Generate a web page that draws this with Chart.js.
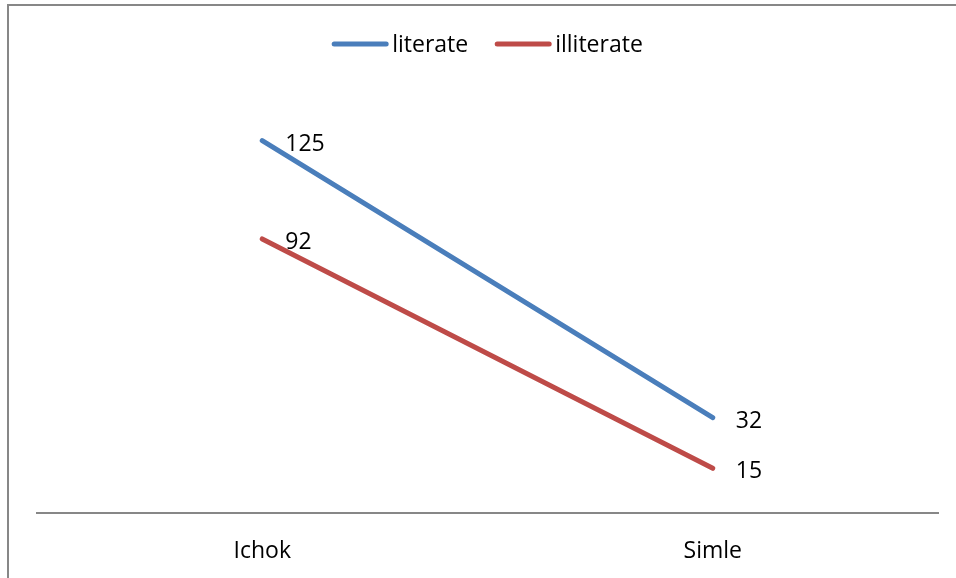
<!DOCTYPE html>
<html>
<head>
<meta charset="utf-8">
<title>literate / illiterate</title>
<script src="https://cdn.jsdelivr.net/npm/chart.js@4.4.1/dist/chart.umd.min.js"></script>
<style>
  html, body { margin: 0; padding: 0; background: #fff; overflow: hidden; }
  #frame {
    position: absolute; left: 7px; top: 4px; width: 1000px; height: 700px;
    border: 2px solid #878787; box-sizing: border-box;
  }
  #wrap { position: absolute; left: 0; top: 0; width: 956px; height: 578px; }
</style>
</head>
<body>
<div id="frame"></div>
<div id="wrap"><canvas id="chart"></canvas></div>
<script>
// data
const categories = ["Ichok", "Simle"];
const literate = [125, 32];
const illiterate = [92, 15];
const seriesNames = ["literate", "illiterate"];
const seriesColors = ["#4A7EBB", "#BE4B48"];
const yMax = 140;

const FONT = "'Open Sans', 'Noto Sans', sans-serif";
const FONT_SIZE = 23;

// legend on top: line swatch + label, centred over the plot
const topLegend = {
  id: "topLegend",
  afterDraw(chart) {
    const ctx = chart.ctx;
    const area = chart.chartArea;
    ctx.save();
    ctx.font = FONT_SIZE + "px " + FONT;
    const swatch = 56, gap = 4, itemGap = 27;
    const items = chart.data.datasets.map((ds) => ({
      label: ds.label,
      color: ds.borderColor,
      w: swatch + gap + ctx.measureText(ds.label).width,
    }));
    let total = items.reduce((s, it) => s + it.w, 0) + itemGap * (items.length - 1);
    let x = (area.left + area.right) / 2 - total / 2;
    const y = 44;
    items.forEach((it) => {
      ctx.strokeStyle = it.color;
      ctx.lineWidth = 5;
      ctx.lineCap = "round";
      ctx.beginPath();
      ctx.moveTo(x + 2, y);
      ctx.lineTo(x + swatch - 2, y);
      ctx.stroke();
      ctx.fillStyle = "#000";
      ctx.textBaseline = "alphabetic";
      ctx.textAlign = "left";
      ctx.fillText(it.label, x + swatch + gap, y + 8);
      x += it.w + itemGap;
    });
    ctx.restore();
  },
};

// value labels to the right of each point
const valueLabels = {
  id: "valueLabels",
  afterDatasetsDraw(chart) {
    const ctx = chart.ctx;
    ctx.save();
    ctx.font = FONT_SIZE + "px " + FONT;
    ctx.fillStyle = "#000";
    ctx.textAlign = "left";
    ctx.textBaseline = "alphabetic";
    chart.data.datasets.forEach((ds, i) => {
      chart.getDatasetMeta(i).data.forEach((pt, j) => {
        ctx.fillText(String(ds.data[j]), pt.x + 23, pt.y + 10);
      });
    });
    ctx.restore();
  },
};

new Chart(document.getElementById("chart"), {
  type: "line",
  data: {
    labels: categories,
    datasets: [
      { label: seriesNames[0], data: literate, borderColor: seriesColors[0], backgroundColor: seriesColors[0] },
      { label: seriesNames[1], data: illiterate, borderColor: seriesColors[1], backgroundColor: seriesColors[1] },
    ],
  },
  options: {
    responsive: true,
    maintainAspectRatio: false,
    animation: false,
    elements: {
      line: { borderWidth: 5, tension: 0, borderCapStyle: "round" },
      point: { radius: 0, hoverRadius: 0 },
    },
    layout: { autoPadding: false, padding: { top: 96, left: 37, right: 18, bottom: 14 } },
    plugins: { legend: { display: false }, tooltip: { enabled: false } },
    scales: {
      x: {
        offset: true,
        grid: { display: false, drawTicks: false },
        border: { display: true, color: "#878787", width: 2 },
        ticks: { color: "#000", padding: 25, font: { family: FONT, size: FONT_SIZE } },
        afterFit(scale) { scale.height = 51; },
      },
      y: { display: false, min: 0, max: yMax },
    },
  },
  plugins: [topLegend, valueLabels],
});
</script>
</body>
</html>
